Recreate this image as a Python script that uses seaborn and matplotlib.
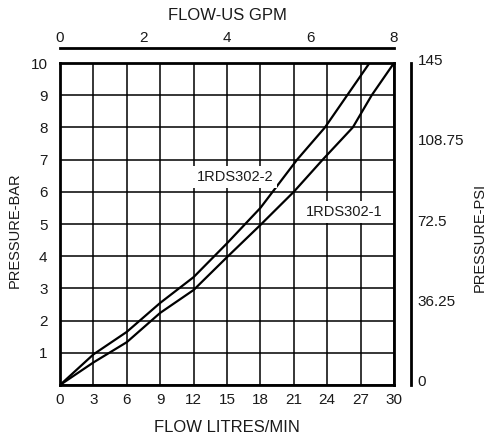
import numpy as np
import pandas as pd
import matplotlib
matplotlib.use('Agg')
import matplotlib.pyplot as plt
from matplotlib.transforms import ScaledTranslation
import seaborn as sns

sns.set_theme(style='white')
plt.rcParams['font.family'] = ['Liberation Sans', 'DejaVu Sans']
plt.rcParams['font.size'] = 10.5

# curve data, flow in L/min, pressure in bar
flow_302_2 = [0, 3, 6, 9, 12, 15, 18, 21.3, 23.8, 25.8, 27.8]
bar_302_2 = [0, 0.95, 1.65, 2.55, 3.35, 4.4, 5.5, 7.0, 8.0, 9.0, 10.0]
flow_302_1 = [0, 3, 6, 9, 12, 15, 18, 21, 23.6, 26.3, 28.0, 30]
bar_302_1 = [0, 0.7, 1.33, 2.24, 2.95, 3.97, 4.97, 6.0, 7.0, 8.0, 9.0, 10.0]

flow_ticks = list(range(0, 31, 3))
bar_ticks = list(range(0, 11))
bar_labels = [''] + [str(i) for i in range(1, 11)]
gpm_ticks = [0, 2, 4, 6, 8]
psi_ticks = [0, 36.25, 72.5, 108.75, 145]
psi_labels = ['0', '36.25', '72.5', '108.75', '145']

labels = ['1RDS302-2', '1RDS302-1']
label_pos = [(15.7, 6.46), (25.5, 5.37)]

df = pd.concat([
    pd.DataFrame({'flow': flow_302_2, 'bar': bar_302_2, 'model': labels[0]}),
    pd.DataFrame({'flow': flow_302_1, 'bar': bar_302_1, 'model': labels[1]}),
])

TXT = '#1a1a1a'
W, H = 489, 437
fig = plt.figure(figsize=(W / 100, H / 100), dpi=100)
ax = fig.add_axes([60 / W, 1 - 385 / H, 334 / W, 322 / H])

ax.set_xticks(flow_ticks)
ax.set_yticks(bar_ticks)
ax.set_yticklabels(bar_labels)
ax.grid(True, color='black', lw=1.1)
ax.set_axisbelow(True)

sns.lineplot(data=df, x='flow', y='bar', hue='model', palette=['black', 'black'],
             lw=1.6, legend=False, sort=False, estimator=None, ax=ax)

ax.set_xlim(0, 30)
ax.set_ylim(0, 10)
for s in ax.spines.values():
    s.set_color('black')
    s.set_linewidth(2)
ax.tick_params(length=0, colors=TXT)
ax.tick_params(axis='x', pad=6)
ax.tick_params(axis='y', pad=9)
ax.set_xlabel('FLOW LITRES/MIN', color=TXT, labelpad=9)
ax.set_ylabel('')

for lab, (x, y) in zip(labels, label_pos):
    ax.text(x, y, lab, ha='center', va='center', color=TXT,
            bbox=dict(facecolor='white', edgecolor='none', pad=3))

# top axis, US gpm
ax_top = ax.twiny()
ax_top.set_xlim(0, 8)
ax_top.set_xticks(gpm_ticks)
ax_top.grid(False)
for k in ['bottom', 'left', 'right']:
    ax_top.spines[k].set_visible(False)
ax_top.spines['top'].set_position(('outward', 11))
ax_top.spines['top'].set_color('black')
ax_top.spines['top'].set_linewidth(2)
ax_top.tick_params(length=0, pad=2, colors=TXT)
ax_top.set_xlabel('FLOW-US GPM', color=TXT, labelpad=8)

# right axis, psi
ax_r = ax.twinx()
ax_r.set_ylim(0, 145)
ax_r.set_yticks(psi_ticks)
ax_r.set_yticklabels(psi_labels)
ax_r.grid(False)
for k in ['bottom', 'left', 'top']:
    ax_r.spines[k].set_visible(False)
ax_r.spines['right'].set_position(('outward', 12))
ax_r.spines['right'].set_color('black')
ax_r.spines['right'].set_linewidth(2)
ax_r.tick_params(length=0, pad=5, colors=TXT)
shift = ScaledTranslation(0, 4 / 100, fig.dpi_scale_trans)
for t in ax_r.get_yticklabels():
    t.set_transform(t.get_transform() + shift)

fig.text(15 / W, 1 - 230 / H, 'PRESSURE-BAR', rotation=90, ha='center', va='center',
         color=TXT)
fig.text(480 / W, 1 - 237 / H, 'PRESSURE-PSI', rotation=90, ha='center', va='center',
         color=TXT)

fig.savefig('out.png', dpi=100)
